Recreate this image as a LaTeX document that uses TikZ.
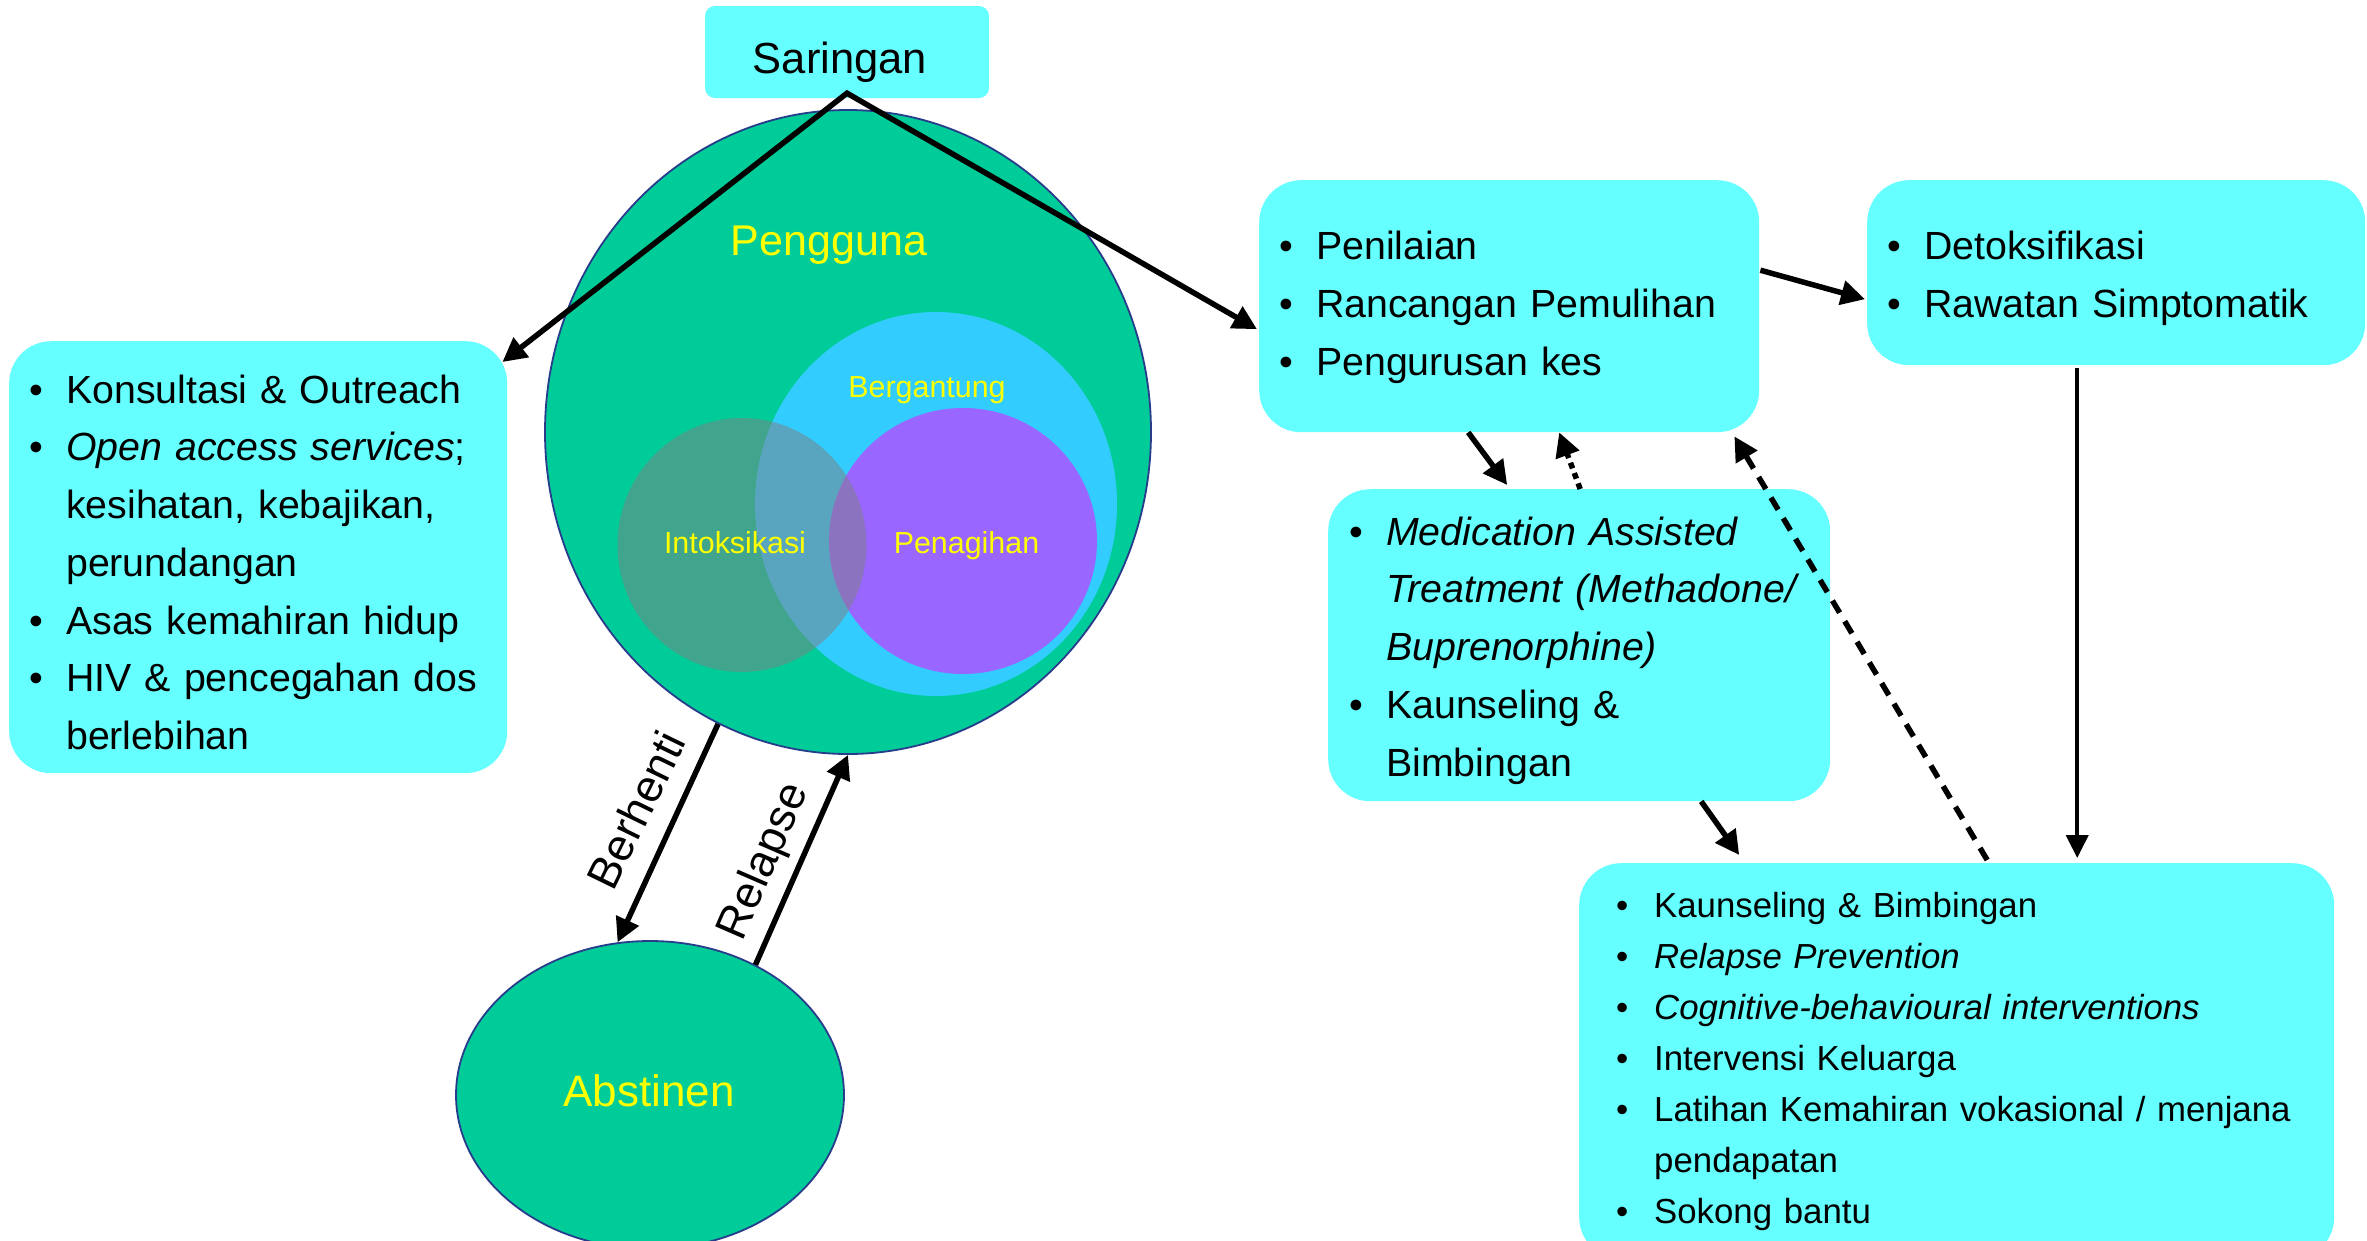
\documentclass[tikz,border=0pt]{standalone}
\usepackage{fontspec}
\setmainfont{Liberation Sans}
\usetikzlibrary{shapes.geometric,arrows.meta,calc}
\definecolor{boxcyan}{RGB}{102,255,255}
\definecolor{usergreen}{RGB}{0,204,153}
\definecolor{depblue}{RGB}{51,204,255}
\definecolor{addpurple}{RGB}{153,102,255}
\definecolor{intgray}{RGB}{128,128,128}
\definecolor{edgeblue}{RGB}{40,60,140}
\definecolor{txtyellow}{RGB}{255,255,0}
\newcommand\bitem[2][37pt]{\par\hangindent=#1\relax\hangafter=1\relax\noindent\makebox[#1][l]{\textbullet}#2\par}
\newcommand\liststart{\par\vspace*{-\baselineskip}}
\begin{document}
\begin{tikzpicture}[x=1pt,y=-1pt,
  >={Triangle[length=24pt,width=24pt]},
  infobox/.style={fill=boxcyan, rounded corners=42pt, inner ysep=0pt, inner xsep=20pt, anchor=north west, font=\fontsize{39.3}{57.7}\selectfont},
  blob/.style={ellipse, inner sep=0pt},
  circtext/.style={text=txtyellow, anchor=base, inner sep=0pt},
  arclabel/.style={inner sep=0pt, font=\fontsize{45}{50}\selectfont},
  flow/.style={line width=5.5pt, ->},
  thinflow/.style={line width=4pt, -{Triangle[length=23pt,width=22pt]}},
  dashflow/.style={flow, dash pattern=on 14pt off 10pt},
  dotflow/.style={flow, dash pattern=on 6pt off 5pt}
]
\useasboundingbox (0,0) rectangle (2367,1240);
\fill[white] (0,0) rectangle (2367,1240);

% circles
\node[blob, fill=usergreen, draw=edgeblue, line width=1.8pt, minimum width=606pt, minimum height=644pt] (peng) at (848,432) {};
\node[blob, fill=depblue, minimum width=362pt, minimum height=384pt] (berg) at (936,504) {};
\node[blob, fill=addpurple, minimum width=268pt, minimum height=266pt] (penag) at (963,541) {};
\node[blob, fill=intgray, fill opacity=0.5, minimum width=249pt, minimum height=254pt] (intox) at (742,545) {};
\node[blob, fill=usergreen, draw=edgeblue, line width=1.8pt, minimum width=388pt, minimum height=308pt] (abst) at (650,1095) {};

\node[circtext, font=\fontsize{43}{50}\selectfont] (pengtxt) at (829,255) {Pengguna};
\node[circtext, font=\fontsize{30.4}{36}\selectfont] (bergtxt) at (927,397) {Bergantung};
\node[circtext, font=\fontsize{30.4}{36}\selectfont] (intoxtxt) at (735,553.6) {Intoksikasi};
\node[circtext, font=\fontsize{30.4}{36}\selectfont] (penagtxt) at (966.5,553.6) {Penagihan};
\node[circtext, font=\fontsize{44}{50}\selectfont] (absttxt) at (649,1106) {Abstinen};

% boxes
\node[fill=boxcyan, rounded corners=10pt, minimum width=284pt, inner ysep=0pt, text height=67pt, text depth=25pt, font=\fontsize{43.5}{52}\selectfont] (sar) at (847,52) {\hspace*{-14pt}Saringan};

\node[infobox, text width=458pt, text height=62pt, text depth=370pt] (lbox) at (9,341)
 {\liststart\bitem{Konsultasi \& Outreach}\bitem{\textit{Open access services}; \newline kesihatan, kebajikan, \newline perundangan}\bitem{Asas kemahiran hidup}\bitem{HIV \& pencegahan dos \newline berlebihan}};

\node[infobox, text width=460pt, text height=79.4pt, text depth=172.6pt] (assess) at (1259,180)
 {\liststart\bitem{Penilaian}\bitem{Rancangan Pemulihan}\bitem{Pengurusan kes}};

\node[infobox, text width=458pt, text height=79.4pt, text depth=105.6pt] (detox) at (1867,180)
 {\liststart\bitem{Detoksifikasi}\bitem{Rawatan Simptomatik}};

\node[infobox, inner xsep=21pt, text width=460pt, text height=56pt, text depth=256pt] (mat) at (1328,489)
 {\liststart\bitem{\textit{Medication Assisted \newline Treatment (Methadone/ \newline Buprenorphine)}}\bitem{Kaunseling \& \newline Bimbingan}};

\node[infobox, inner xsep=37pt, text width=681pt, text height=54pt, text depth=342pt, font=\fontsize{34.8}{51}\selectfont] (bot) at (1579,863)
 {\liststart\bitem[38pt]{Kaunseling \& Bimbingan}\bitem[38pt]{\textit{Relapse Prevention}}\bitem[38pt]{\textit{Cognitive-behavioural interventions}}\bitem[38pt]{Intervensi Keluarga}\bitem[38pt]{Latihan Kemahiran vokasional / menjana \newline pendapatan}\bitem[38pt]{Sokong bantu}};

% connectors
\draw[flow, line join=miter, <->] ($(lbox.north east)+(-5,21)$) -- ($(sar.south)+(0,-5)$) -- ($(assess.west)+(-2,23)$);
\draw[flow] ($(assess.east)+(1,-36)$) -- ($(detox.west)+(-2,26.5)$);
\draw[thinflow] ($(detox.south)+(-39,3)$) -- ($(bot.north)+(120.5,-5)$);
\draw[flow] ($(assess.south)+(-41,0)$) -- ($(mat.north)+(-72,-4)$);
\draw[dotflow] ($(mat.north)+(1,0)$) -- ($(assess.south)+(50,0)$);
\draw[dashflow] ($(bot.north)+(30.5,-3)$) -- ($(assess.south east)+(-25,4)$);
\draw[flow] ($(mat.south)+(122,0)$) -- ($(bot.north)+(-217.5,-8)$);
\draw[flow] (peng.246.8) -- (abst.102);
\draw[flow] (abst.51) -- (peng.270);

\node[arclabel, rotate=64] (berlbl) at (636,810) {Berhenti};
\node[arclabel, rotate=66.5] (rellbl) at (765,862) {Relapse};
\end{tikzpicture}
\end{document}
